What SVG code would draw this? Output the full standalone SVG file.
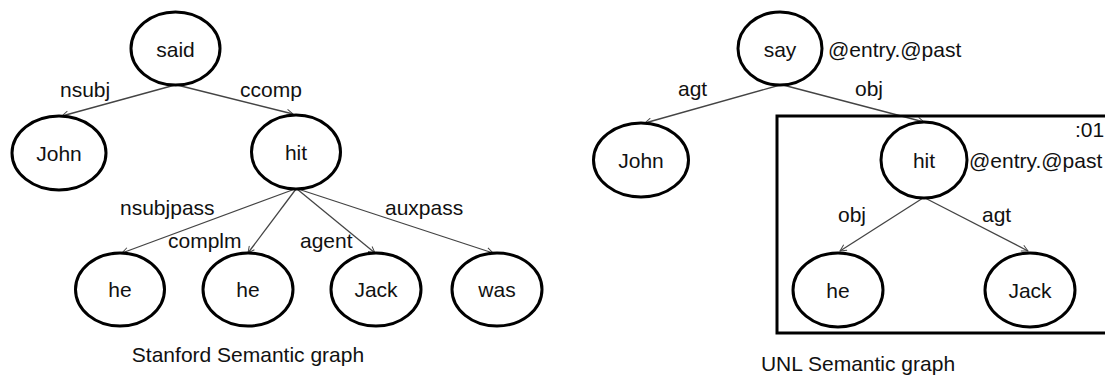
<svg xmlns="http://www.w3.org/2000/svg" width="1105" height="376" viewBox="0 0 1105 376">
<defs>
<style>
.n{fill:#fff;stroke:#000;stroke-width:3}
.t{font-family:"Liberation Sans",Arial,sans-serif;font-size:21px;fill:#111;text-anchor:middle}
.l{font-family:"Liberation Sans",Arial,sans-serif;font-size:21px;fill:#111}
.e{fill:none;stroke:#444;stroke-width:1.3;marker-end:url(#ah)}
</style>
<marker id="ah" viewBox="0 0 10 10" refX="9" refY="5" markerWidth="8" markerHeight="8" orient="auto" markerUnits="userSpaceOnUse">
<path d="M1,1 L9,5 L1,9" fill="none" stroke="#444" stroke-width="1.2"/>
</marker>
</defs>
<rect width="1105" height="376" fill="#fff"/>
<g id="connectors">
<line class="e" x1="175" y1="85" x2="62" y2="116"/>
<line class="e" x1="177" y1="85" x2="293" y2="114"/>
<line class="e" x1="295" y1="189" x2="122" y2="253"/>
<line class="e" x1="296" y1="189" x2="248" y2="253"/>
<line class="e" x1="297" y1="189" x2="375" y2="253"/>
<line class="e" x1="298" y1="189" x2="493" y2="253"/>
<line class="e" x1="780" y1="85" x2="645" y2="123"/>
<line class="e" x1="783" y1="85" x2="924" y2="122"/>
<line class="e" x1="923" y1="198" x2="840" y2="251"/>
<line class="e" x1="925" y1="198" x2="1028" y2="251"/>
</g>
<rect id="scope01" x="777" y="116" width="340" height="217" fill="none" stroke="#000" stroke-width="3"/>
<g id="said"><ellipse class="n" cx="175.5" cy="48.5" rx="44.5" ry="36.5"/><text class="t" x="175.5" y="56.5">said</text></g>
<g id="john1"><ellipse class="n" cx="59" cy="153" rx="47" ry="37"/><text class="t" x="59" y="160.5">John</text></g>
<g id="hit1"><ellipse class="n" cx="296" cy="152" rx="44.5" ry="37"/><text class="t" x="296" y="159.5">hit</text></g>
<g id="he1"><ellipse class="n" cx="120" cy="289.5" rx="44.5" ry="36.5"/><text class="t" x="120" y="297">he</text></g>
<g id="he2"><ellipse class="n" cx="248" cy="289.5" rx="45" ry="36.5"/><text class="t" x="248" y="297">he</text></g>
<g id="jack1"><ellipse class="n" cx="376" cy="289.5" rx="45" ry="36.5"/><text class="t" x="376" y="297">Jack</text></g>
<g id="was"><ellipse class="n" cx="497" cy="289.5" rx="45" ry="36.5"/><text class="t" x="497" y="297">was</text></g>
<g id="say"><ellipse class="n" cx="780" cy="48.5" rx="42" ry="36.5"/><text class="t" x="780" y="56.5">say</text></g>
<g id="john2"><ellipse class="n" cx="641" cy="160" rx="47.5" ry="37"/><text class="t" x="641" y="167.5">John</text></g>
<g id="hit2"><ellipse class="n" cx="924" cy="160" rx="43" ry="38"/><text class="t" x="924" y="167.5">hit</text></g>
<g id="he3"><ellipse class="n" cx="838" cy="290" rx="45" ry="37"/><text class="t" x="838" y="297.5">he</text></g>
<g id="jack2"><ellipse class="n" cx="1030" cy="290" rx="45" ry="37"/><text class="t" x="1030" y="297.5">Jack</text></g>
<g id="labels">
<text class="l" x="60" y="97">nsubj</text>
<text class="l" x="240" y="97">ccomp</text>
<text class="l" x="120" y="215">nsubjpass</text>
<text class="l" x="385" y="215">auxpass</text>
<text class="l" x="168" y="248">complm</text>
<text class="l" x="300" y="248">agent</text>
<text class="t" x="248" y="362">Stanford Semantic graph</text>
<text class="l" x="678" y="96">agt</text>
<text class="l" x="855" y="96">obj</text>
<text class="l" x="828" y="57">@entry.@past</text>
<text class="l" x="1075" y="137">:01</text>
<text class="l" x="969" y="168">@entry.@past</text>
<text class="l" x="838" y="222">obj</text>
<text class="l" x="982" y="222">agt</text>
<text class="t" x="858" y="371">UNL Semantic graph</text>
</g>
</svg>
